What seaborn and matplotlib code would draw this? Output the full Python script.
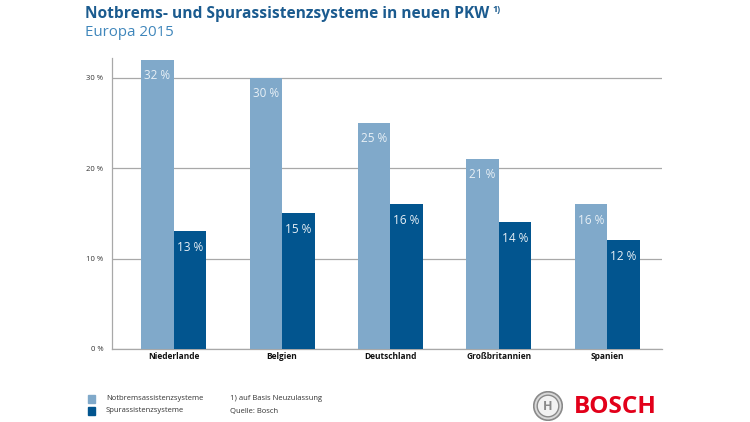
import pandas as pd
import matplotlib.pyplot as plt
import seaborn as sns
from matplotlib.patches import Rectangle, Circle

# Daten
laender = ['Niederlande', 'Belgien', 'Deutschland', 'Großbritannien', 'Spanien']
notbrems = [32, 30, 25, 21, 16]
spur = [13, 15, 16, 14, 12]
serien = ['Notbremsassistenzsysteme', 'Spurassistenzsysteme']
yticks = [0, 10, 20, 30]

hell = '#80a9ca'
dunkel = '#02558f'

df = pd.DataFrame({
    'Land': laender * 2,
    'Wert': notbrems + spur,
    'System': [serien[0]] * len(laender) + [serien[1]] * len(laender),
})

sns.set_style('white')
plt.rcParams['font.family'] = ['Open Sans', 'DejaVu Sans']

fig = plt.figure(figsize=(7.5, 4.22), dpi=100)
ax = fig.add_axes([0.149, 0.173, 0.734, 0.690])

sns.barplot(data=df, x='Land', y='Wert', hue='System', palette=[hell, dunkel],
            width=0.6, gap=0, saturation=1, ax=ax, legend=False, zorder=3,
            linewidth=0)

for cont in ax.containers:
    ax.bar_label(cont, labels=[f'{v:.0f} %' for v in cont.datavalues],
                 padding=-16, color='#e8f0f6', fontsize=8.5)

ax.set_xlim(-0.573, 4.51)
ax.set_ylim(0, 32.2)
ax.set_yticks(yticks)
ax.set_yticklabels([f'{t} %' for t in yticks], fontsize=5.5, color='#333333')
ax.tick_params(axis='y', length=0, pad=6)
ax.tick_params(axis='x', length=0, pad=2)
for lbl in ax.get_xticklabels():
    lbl.set_fontsize(6)
    lbl.set_fontweight('bold')
    lbl.set_color('#111111')
ax.set_xlabel('')
ax.set_ylabel('')
ax.yaxis.grid(True, color='#a8a8a8', linewidth=0.9, zorder=0)
for s in ['top', 'right']:
    ax.spines[s].set_visible(False)
ax.spines['left'].set_color('#a8a8a8')
ax.spines['left'].set_linewidth(0.9)
ax.spines['bottom'].set_color('#a8a8a8')
ax.spines['bottom'].set_linewidth(0.9)

# Titel
titel = fig.text(85 / 750, 1 - 14 / 422, 'Notbrems- und Spurassistenzsysteme in neuen PKW',
                 fontsize=11.2, fontweight='bold', color='#1b5b8f', va='center')
fig.canvas.draw()
bb = titel.get_window_extent(fig.canvas.get_renderer())
fig.text((bb.x1 + 3) / 750, 1 - 10 / 422, '1)', fontsize=6.5, fontweight='bold',
         color='#1b5b8f', va='center')
fig.text(85 / 750, 1 - 33 / 422, 'Europa 2015', fontsize=10.8, color='#3f86bb',
         va='center')

# Legende
for i, (name, col) in enumerate(zip(serien, [hell, dunkel])):
    y = 1 - (399 + i * 12) / 422
    fig.patches.append(Rectangle((88 / 750, y - 4 / 422), 7 / 750, 8 / 422,
                                 transform=fig.transFigure, color=col))
    fig.text(106 / 750, y, name, fontsize=5.5, color='#333333', va='center')
fig.text(230 / 750, 1 - 399 / 422, '1) auf Basis Neuzulassung', fontsize=5.5,
         color='#333333', va='center')
fig.text(230 / 750, 1 - 411 / 422, 'Quelle: Bosch', fontsize=5.5,
         color='#333333', va='center')

# Logo
logo = fig.add_axes([533 / 750, 1 - 421 / 422, 30 / 750, 30 / 422])
logo.set_aspect('equal')
logo.axis('off')
logo.set_xlim(-1, 1)
logo.set_ylim(-1, 1)
logo.add_patch(Circle((0, 0), 0.95, facecolor='#d8d8d8', edgecolor='#8a8a8a', linewidth=1.2))
logo.add_patch(Circle((0, 0), 0.72, facecolor='#f2f2f2', edgecolor='#8a8a8a', linewidth=1))
logo.text(0, -0.05, 'H', ha='center', va='center', fontsize=9, color='#8a8a8a',
          fontweight='bold')
fig.text(574 / 750, 1 - 407 / 422, 'BOSCH', fontsize=17.5, fontweight='bold',
         color='#e2001a', va='center')

fig.savefig('out.png', dpi=100)
